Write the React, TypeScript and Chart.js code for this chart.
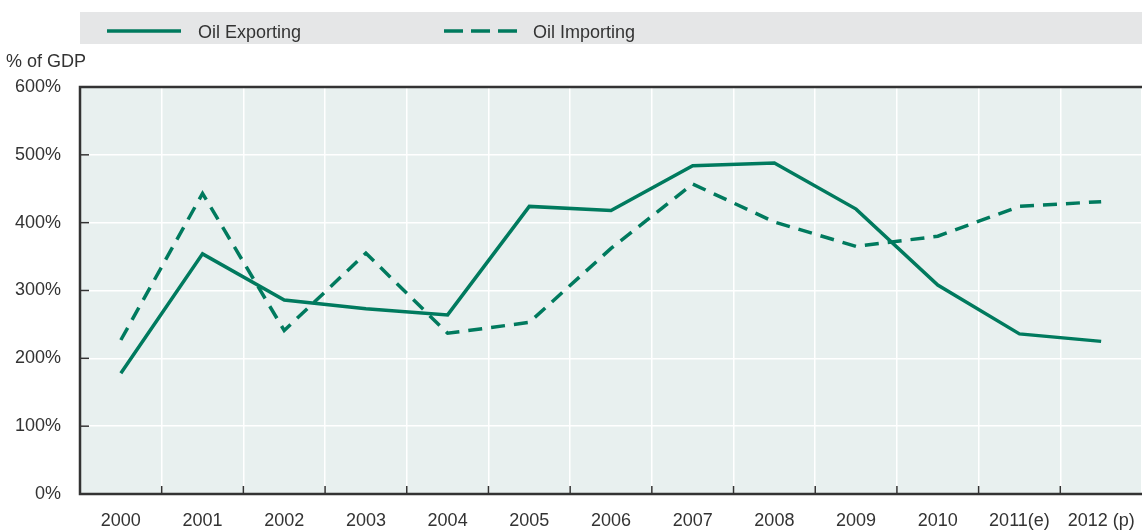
import React, { useEffect, useRef } from "react";
import { Chart, registerables } from "chart.js";

Chart.register(...registerables);

const categories = [
  "2000", "2001", "2002", "2003", "2004", "2005", "2006",
  "2007", "2008", "2009", "2010", "2011(e)", "2012 (p)",
];
const oilExporting = [178, 354, 286, 273, 264, 424, 418, 484, 488, 420, 308, 236, 225];
const oilImporting = [227, 443, 241, 355, 237, 253, 362, 457, 401, 365, 380, 424, 431];
const seriesNames = ["Oil Exporting", "Oil Importing"];
const yTickValues = [0, 100, 200, 300, 400, 500, 600];
const yAxisTitle = "% of GDP";

const FONT = "'Liberation Sans', Arial, sans-serif";
const FONT_SIZE = 18;
const LINE_COLOR = "#007a5e";
const TEXT_COLOR = "#333333";
const PLOT_BG = "#e8f0ef";
const LEGEND_BG = "#e5e6e7";
const FRAME = "#333333";

const decorPlugin = {
  id: "decor",
  beforeDraw(chart: any) {
    const { ctx, chartArea } = chart;
    ctx.save();
    ctx.fillStyle = PLOT_BG;
    ctx.fillRect(chartArea.left, chartArea.top, chartArea.right - chartArea.left, chartArea.bottom - chartArea.top);
    ctx.restore();
  },
  afterDraw(chart: any) {
    const { ctx, chartArea } = chart;
    const x = chart.scales.x;
    const y = chart.scales.y;
    ctx.save();
    // tick marks inside plot
    ctx.strokeStyle = FRAME;
    ctx.lineWidth = 1.5;
    y.ticks.forEach((t: any) => {
      const py = y.getPixelForValue(t.value);
      ctx.beginPath();
      ctx.moveTo(chartArea.left, py);
      ctx.lineTo(chartArea.left + 9, py);
      ctx.stroke();
    });
    const n = categories.length;
    const w = (chartArea.right - chartArea.left) / n;
    for (let i = 1; i < n; i++) {
      const px = x.getPixelForValue(i) - w / 2;
      ctx.beginPath();
      ctx.moveTo(px, chartArea.bottom);
      ctx.lineTo(px, chartArea.bottom - 8);
      ctx.stroke();
    }
    // frame
    ctx.lineWidth = 2.5;
    ctx.beginPath();
    ctx.moveTo(chartArea.right + 2, chartArea.top);
    ctx.lineTo(chartArea.left, chartArea.top);
    ctx.lineTo(chartArea.left, chartArea.bottom);
    ctx.lineTo(chartArea.right + 2, chartArea.bottom);
    ctx.stroke();

    // legend box
    ctx.fillStyle = LEGEND_BG;
    ctx.fillRect(80, 12, 1142 - 80, 32);
    const items = [
      { x1: 107, x2: 181, tx: 198, dash: [] as number[] },
      { x1: 444, x2: 517, tx: 533, dash: [19, 8] },
    ];
    chart.data.datasets.forEach((ds: any, i: number) => {
      const it = items[i];
      ctx.strokeStyle = ds.borderColor;
      ctx.lineWidth = 3.5;
      ctx.setLineDash(it.dash);
      ctx.beginPath();
      ctx.moveTo(it.x1, 31);
      ctx.lineTo(it.x2, 31);
      ctx.stroke();
      ctx.setLineDash([]);
      ctx.fillStyle = TEXT_COLOR;
      ctx.font = `${FONT_SIZE}px ${FONT}`;
      ctx.textAlign = "left";
      ctx.textBaseline = "alphabetic";
      ctx.fillText(ds.label, it.tx, 38);
    });

    // axis title
    ctx.fillStyle = TEXT_COLOR;
    ctx.font = `${FONT_SIZE}px ${FONT}`;
    ctx.textAlign = "right";
    ctx.textBaseline = "alphabetic";
    ctx.fillText(yAxisTitle, 86, 67);
    ctx.restore();
  },
};

export default function App() {
  const ref = useRef<HTMLCanvasElement | null>(null);
  useEffect(() => {
    if (!ref.current) return;
    const chart = new Chart(ref.current, {
      type: "line",
      data: {
        labels: categories,
        datasets: [
          {
            label: seriesNames[0],
            data: oilExporting,
            borderColor: LINE_COLOR,
            backgroundColor: LINE_COLOR,
            borderWidth: 3.5,
            pointRadius: 0,
            tension: 0,
            fill: false,
          },
          {
            label: seriesNames[1],
            data: oilImporting,
            borderColor: LINE_COLOR,
            backgroundColor: LINE_COLOR,
            borderWidth: 3.5,
            borderDash: [14, 9],
            pointRadius: 0,
            tension: 0,
            fill: false,
          },
        ],
      },
      options: {
        responsive: false,
        animation: false,
        devicePixelRatio: 1,
        layout: { padding: { top: 87, left: 0, right: 0, bottom: 0 } },
        plugins: { legend: { display: false }, tooltip: { enabled: false }, title: { display: false } },
        scales: {
          x: {
            type: "category",
            offset: true,
            grid: { color: "#ffffff", lineWidth: 1.5, offset: true, drawTicks: false },
            border: { display: false },
            ticks: {
              color: TEXT_COLOR,
              font: { family: FONT, size: FONT_SIZE },
              padding: 16,
              autoSkip: false,
              maxRotation: 0,
              minRotation: 0,
            },
            afterFit: (s: any) => {
              s.height = 36;
              s.paddingLeft = 0;
              s.paddingRight = 0;
            },
          },
          y: {
            min: 0,
            max: 600,
            grid: { color: "#ffffff", lineWidth: 1.5, drawTicks: false },
            border: { display: false },
            afterBuildTicks: (s: any) => { s.ticks = yTickValues.map((v) => ({ value: v })); },
            ticks: {
              color: TEXT_COLOR,
              font: { family: FONT, size: FONT_SIZE },
              padding: 19,
              callback: (v: any) => `${v}%`,
            },
            afterFit: (s: any) => {
              s.width = 80;
              s.paddingTop = 0;
              s.paddingBottom = 0;
            },
          },
        },
      },
      plugins: [decorPlugin],
    });
    return () => chart.destroy();
  }, []);
  return (
    <div style={{ position: "fixed", left: 0, top: 0, width: 1142, height: 530, background: "#ffffff" }}>
      <canvas ref={ref} width={1142} height={530} style={{ display: "block" }} />
    </div>
  );
}
